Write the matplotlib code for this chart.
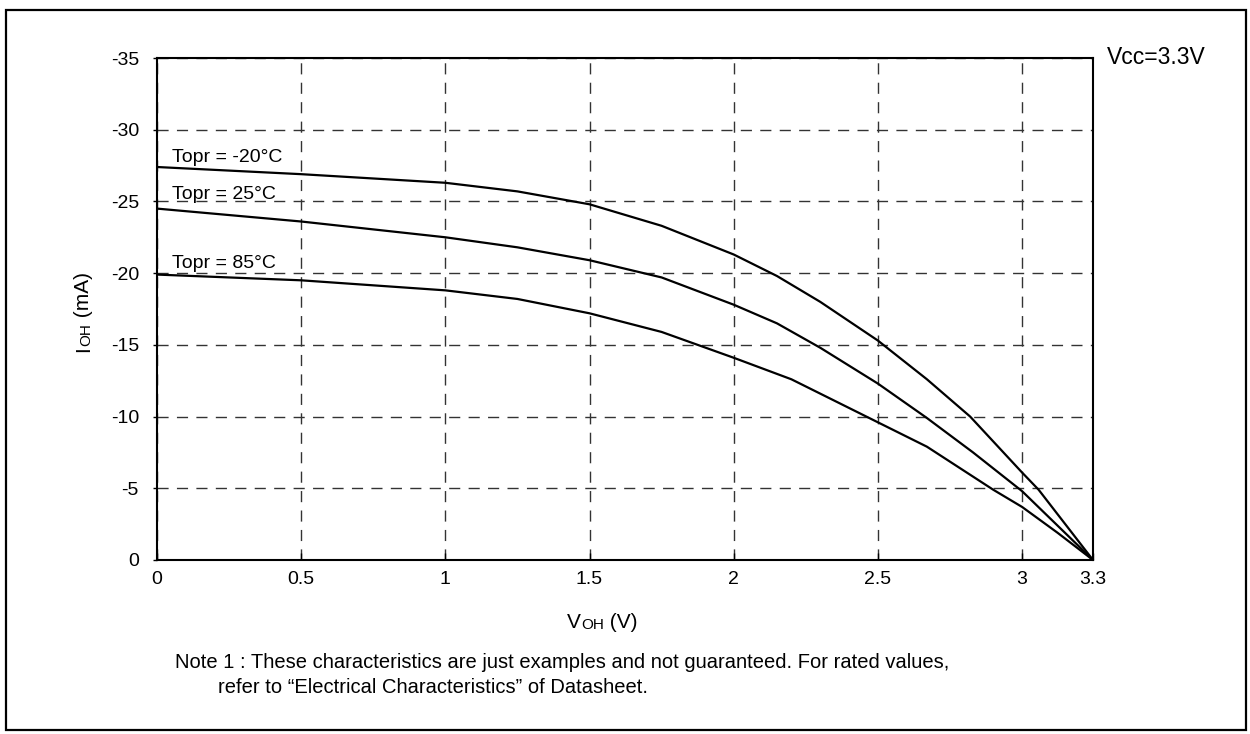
import numpy as np
import matplotlib
matplotlib.use("Agg")
import matplotlib.pyplot as plt
from matplotlib.patches import Rectangle

plt.rcParams["font.family"] = ["Liberation Sans", "DejaVu Sans"]
plt.rcParams["lines.scale_dashes"] = False

# VOH [V] vs IOH [mA]
v_m20 = [0, 0.5, 1.0, 1.25, 1.5, 1.75, 2.0, 2.15, 2.3, 2.5, 2.67, 2.82, 3.0, 3.07, 3.3]
i_m20 = [-27.4, -26.9, -26.3, -25.7, -24.8, -23.3, -21.3, -19.8, -18.0, -15.3, -12.6, -10.0, -6.1, -4.9, 0]

v_25 = [0, 0.5, 1.0, 1.25, 1.5, 1.75, 2.0, 2.15, 2.3, 2.5, 2.67, 2.83, 3.0, 3.15, 3.3]
i_25 = [-24.5, -23.6, -22.5, -21.8, -20.9, -19.7, -17.8, -16.5, -14.8, -12.3, -9.9, -7.5, -4.8, -2.4, 0]

v_85 = [0, 0.5, 1.0, 1.25, 1.5, 1.75, 2.0, 2.2, 2.37, 2.5, 2.67, 2.9, 3.0, 3.15, 3.3]
i_85 = [-19.9, -19.5, -18.8, -18.2, -17.2, -15.9, -14.1, -12.6, -10.9, -9.6, -7.9, -4.9, -3.7, -1.9, 0]

series = [
    (v_m20, i_m20, "Topr = -20°C", -27.75),
    (v_25, i_25, "Topr = 25°C", -25.17),
    (v_85, i_85, "Topr = 85°C", -20.36),
]

x_ticks = [0, 0.5, 1, 1.5, 2, 2.5, 3, 3.3]
x_tick_labels = ["0", "0.5", "1", "1.5", "2", "2.5", "3", "3.3"]
y_ticks = [0, -5, -10, -15, -20, -25, -30, -35]

W, H = 1250, 734


# the last 0.3 V of the original axis is squeezed
def fwd(x):
    x = np.asarray(x, dtype=float)
    return np.where(x <= 3, x, 3 + (x - 3) * 0.82)


def inv(x):
    x = np.asarray(x, dtype=float)
    return np.where(x <= 3, x, 3 + (x - 3) / 0.82)


def px(x, y):
    return x / W, 1 - y / H


fig = plt.figure(figsize=(12.5, 7.34), dpi=100)
fig.patches.append(
    Rectangle(px(6, 730), (1246 - 6) / W, (730 - 10) / H, transform=fig.transFigure,
              fill=False, edgecolor="black", linewidth=1.6)
)

ax = fig.add_axes([157 / W, 1 - 560 / H, (1093 - 157) / W, (560 - 58) / H])
ax.set_xscale("function", functions=(fwd, inv))
ax.set_xlim(0, 3.3)
ax.set_ylim(0, -35)
ax.set_xticks(x_ticks)
ax.set_xticklabels(x_tick_labels)
ax.set_yticks(y_ticks)
ax.set_yticklabels([str(t) for t in y_ticks])
ax.tick_params(axis="x", direction="in", length=5, width=1, pad=8, labelsize=14)
ax.tick_params(axis="y", direction="out", length=3, width=1, pad=10, labelsize=14)
ax.minorticks_off()
for s in ax.spines.values():
    s.set_linewidth(1.5)
ax.grid(True, color="#333333", linewidth=1.0, linestyle=(0, (8, 6)))

for v, i, label, y_lab in series:
    ax.plot(v, i, color="black", linewidth=1.6, solid_joinstyle="round")
    ax.text(0.052, y_lab, label, fontsize=14, ha="left", va="baseline")

# y label: I + small OH + (mA)
t1 = fig.text(*px(93, 352), "I", fontsize=15, rotation=90, ha="right", va="bottom")
t2 = ax.annotate("OH", xy=(1, 1), xycoords=t1, fontsize=11, rotation=90, ha="right", va="bottom")
ax.annotate(" (mA)", xy=(1, 1), xycoords=t2, fontsize=15, rotation=90, ha="right", va="bottom")

# x label: V + small OH + (V)
x1 = fig.text(*px(567, 628), "V", fontsize=15, ha="left", va="baseline")
x2 = ax.annotate("OH", xy=(1, 0), xycoords=x1, fontsize=11, ha="left", va="bottom")
ax.annotate(" (V)", xy=(1, 0), xycoords=x2, fontsize=15, ha="left", va="bottom")

fig.text(*px(1107, 57), "Vcc=3.3V", fontsize=16.5, ha="left", va="center")

fig.text(*px(175, 668),
         "Note 1 : These characteristics are just examples and not guaranteed. For rated values,",
         fontsize=14.5, ha="left", va="baseline")
fig.text(*px(218, 693), "refer to \u201cElectrical Characteristics\u201d of Datasheet.",
         fontsize=14.5, ha="left", va="baseline")

fig.savefig("out.png", dpi=100)
